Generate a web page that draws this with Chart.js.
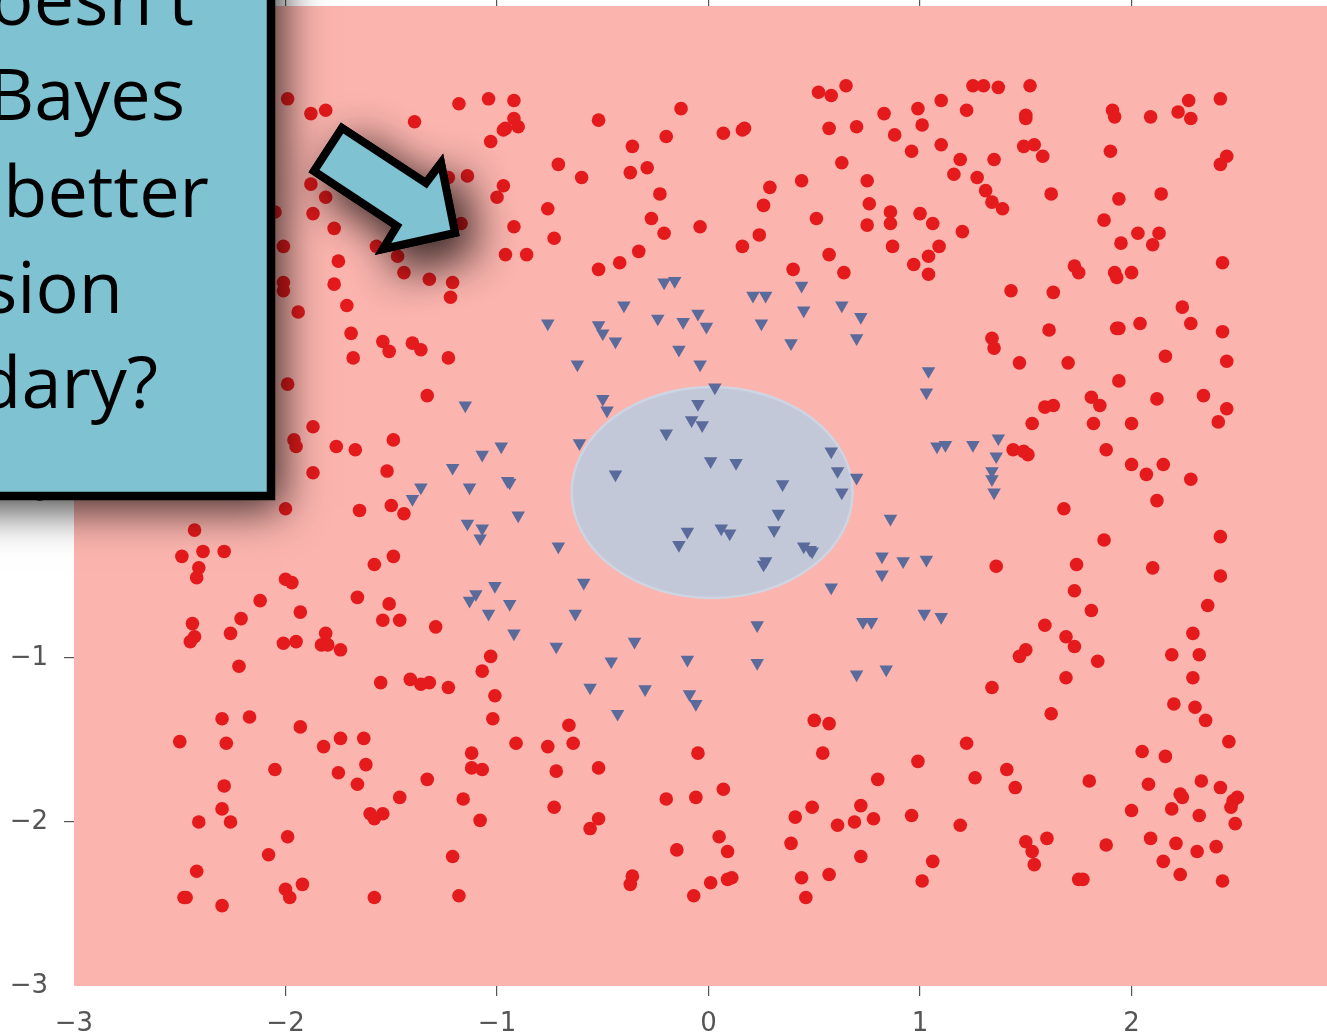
<!DOCTYPE html>
<html><head><meta charset="utf-8">
<script src="https://cdn.jsdelivr.net/npm/chart.js@4.4.0/dist/chart.umd.min.js"></script>
<style>html,body{margin:0;padding:0;background:#fff;overflow:hidden}#wrap{width:1327px;height:1036px;position:relative}canvas{display:block}</style>
</head><body><div id="wrap"><canvas id="c" width="1327" height="1036"></canvas></div>
<script>
// ---- data ----
const xTicks = [-3, -2, -1, 0, 1, 2];
const yTicks = [-3, -2, -1, 0, 1, 2];
const xRange = [-3, 2.924];
const yRange = [-3, 2.976];

const redPoints = [
[-1.99,2.41],[-1.88,2.32],[-1.81,2.34],[-1.39,2.27],[-1.18,2.38],[-1.04,2.41],[-0.92,2.40],[-0.92,2.29],[-0.97,2.22],[-0.96,2.23],
[-0.90,2.24],[-1.03,2.15],[-0.52,2.28],[-0.13,2.35],[-0.20,2.18],[-0.36,2.12],[-0.71,2.01],[-0.60,1.93],[-0.37,1.96],[-0.29,1.99],
[-0.23,1.83],[-1.14,1.94],[-1.23,1.93],[-1.88,1.89],[-1.81,1.81],[-2.05,1.72],[-1.87,1.71],[-1.77,1.62],[-2.01,1.51],[-1.75,1.42],
[-2.01,1.29],[-2.01,1.24],[-1.77,1.28],[-1.94,1.11],[-1.71,1.15],[-1.69,0.98],[-1.57,1.51],[-1.47,1.45],[-1.44,1.35],[-1.32,1.31],
[-1.21,1.29],[-1.22,1.20],[-1.17,1.65],[-0.97,1.88],[-1.00,1.81],[-0.76,1.74],[-0.92,1.63],[-0.73,1.56],[-0.96,1.46],[-0.86,1.46],
[-0.52,1.37],[-0.42,1.41],[-0.33,1.48],[-0.27,1.68],[-0.21,1.59],[-0.04,1.63],[0.52,2.45],[0.58,2.43],[0.65,2.49],[0.07,2.20],
[0.16,2.22],[0.17,2.23],[0.57,2.23],[0.70,2.24],[0.83,2.32],[0.99,2.35],[1.10,2.40],[1.25,2.49],[1.30,2.49],[1.37,2.48],
[1.52,2.49],[1.22,2.34],[1.01,2.25],[0.88,2.19],[1.10,2.13],[0.96,2.09],[0.63,2.02],[0.75,1.91],[0.76,1.77],[0.86,1.72],
[0.86,1.65],[0.75,1.64],[1.00,1.71],[1.06,1.65],[0.87,1.51],[1.09,1.51],[1.04,1.45],[0.97,1.40],[1.04,1.34],[1.20,1.60],
[1.16,1.95],[1.19,2.04],[1.27,1.93],[1.31,1.85],[1.34,1.78],[1.39,1.74],[1.35,2.04],[1.49,2.12],[1.54,2.13],[1.58,2.06],
[1.50,2.31],[1.50,2.29],[1.91,2.34],[1.92,2.30],[2.09,2.30],[2.22,2.33],[2.27,2.40],[2.28,2.29],[2.42,2.41],[1.90,2.09],
[2.45,2.06],[2.42,2.01],[1.62,1.83],[1.94,1.80],[2.14,1.83],[1.87,1.67],[2.03,1.59],[2.13,1.59],[2.10,1.52],[1.95,1.53],
[2.43,1.41],[0.44,1.91],[0.29,1.87],[0.26,1.76],[0.51,1.68],[0.24,1.58],[0.16,1.51],[0.40,1.37],[0.57,1.46],[0.64,1.35],
[1.73,1.39],[1.75,1.35],[1.92,1.35],[1.93,1.32],[2.00,1.35],[1.43,1.24],[1.63,1.23],[2.24,1.14],[2.28,1.04],[2.43,0.99],
[1.61,1.00],[1.93,1.01],[1.94,1.01],[2.04,1.04],[1.34,0.95],[1.35,0.89],[1.47,0.80],[1.70,0.80],[2.16,0.84],[2.45,0.81],
[1.94,0.69],[1.81,0.59],[1.85,0.54],[2.12,0.58],[2.34,0.60],[2.45,0.52],[2.41,0.44],[1.59,0.53],[1.63,0.54],[1.53,0.43],
[1.82,0.43],[2.00,0.43],[1.44,0.27],[1.49,0.26],[1.51,0.24],[1.88,0.27],[2.00,0.18],[2.15,0.18],[2.07,0.12],[2.28,0.09],
[2.12,-0.04],[1.68,-0.09],[1.87,-0.28],[2.42,-0.26],[1.36,-0.44],[1.74,-0.43],[2.10,-0.45],[2.42,-0.50],[1.73,-0.59],[1.81,-0.71],
[2.36,-0.68],[1.59,-0.80],[1.69,-0.87],[1.73,-0.93],[2.29,-0.85],[1.50,-0.95],[1.47,-0.99],[1.84,-1.02],[2.19,-0.98],[2.32,-0.98],
[1.34,-1.18],[1.69,-1.12],[2.29,-1.12],[1.62,-1.34],[2.20,-1.28],[2.30,-1.30],[2.35,-1.38],[2.46,-1.51],[1.22,-1.52],[0.99,-1.63],
[1.26,-1.73],[1.41,-1.68],[1.45,-1.79],[1.80,-1.75],[2.05,-1.57],[2.16,-1.60],[2.08,-1.77],[2.33,-1.75],[2.42,-1.79],[2.23,-1.83],
[2.24,-1.85],[2.50,-1.85],[2.48,-1.87],[2.47,-1.91],[2.00,-1.93],[2.19,-1.92],[2.32,-1.96],[2.49,-2.01],[0.96,-1.96],[1.19,-2.02],
[1.50,-2.12],[1.60,-2.10],[1.53,-2.18],[1.54,-2.26],[1.88,-2.14],[2.09,-2.10],[2.21,-2.13],[2.40,-2.15],[2.31,-2.18],[2.15,-2.24],
[1.06,-2.24],[1.01,-2.36],[1.75,-2.35],[1.77,-2.35],[2.23,-2.32],[2.43,-2.36],[-0.66,-1.41],[-0.91,-1.52],[-0.76,-1.54],[-0.64,-1.52],
[-0.72,-1.69],[-0.52,-1.67],[-0.73,-1.91],[-0.52,-1.98],[-0.56,-2.04],[-0.05,-1.58],[-0.20,-1.86],[-0.06,-1.85],[0.07,-1.80],[0.05,-2.09],
[0.09,-2.18],[-0.15,-2.17],[-0.36,-2.33],[-0.37,-2.38],[0.01,-2.37],[0.11,-2.34],[0.09,-2.35],[-0.07,-2.45],[0.50,-1.38],[0.57,-1.40],
[0.54,-1.58],[0.80,-1.74],[0.72,-1.90],[0.49,-1.91],[0.41,-1.97],[0.61,-2.02],[0.69,-2.00],[0.78,-1.98],[0.39,-2.13],[0.72,-2.21],
[0.44,-2.34],[0.57,-2.32],[0.46,-2.46],[-2.22,-1.05],[-1.03,-0.99],[-1.07,-1.08],[-1.01,-1.23],[-1.02,-1.37],[-1.55,-1.15],[-1.41,-1.13],
[-1.36,-1.16],[-1.32,-1.15],[-1.23,-1.18],[-2.30,-1.37],[-2.17,-1.36],[-1.93,-1.42],[-2.50,-1.51],[-2.28,-1.52],[-1.82,-1.54],[-1.74,-1.49],
[-1.63,-1.49],[-2.05,-1.68],[-1.75,-1.70],[-1.62,-1.65],[-1.66,-1.77],[-1.12,-1.58],[-1.12,-1.67],[-1.07,-1.68],[-1.33,-1.74],[-1.46,-1.85],
[-1.16,-1.86],[-2.29,-1.78],[-2.30,-1.92],[-2.41,-2.00],[-2.26,-2.00],[-1.60,-1.95],[-1.54,-1.95],[-1.58,-1.98],[-1.08,-1.99],[-1.99,-2.09],
[-2.08,-2.20],[-1.21,-2.21],[-2.42,-2.30],[-2.48,-2.46],[-2.47,-2.46],[-2.30,-2.51],[-2.00,-2.41],[-1.98,-2.46],[-1.92,-2.38],[-1.58,-2.46],
[-1.18,-2.45],[-1.54,0.93],[-1.51,0.87],[-1.40,0.92],[-1.36,0.88],[-1.68,0.83],[-1.23,0.83],[-1.33,0.60],[-1.99,0.67],[-1.87,0.41],
[-1.96,0.33],[-1.95,0.29],[-1.76,0.29],[-1.67,0.27],[-1.49,0.33],[-1.87,0.13],[-1.52,0.14],[-2.00,-0.09],[-1.65,-0.10],[-1.50,-0.07],
[-1.44,-0.12],[-2.43,-0.22],[-2.49,-0.38],[-2.39,-0.35],[-2.29,-0.35],[-2.41,-0.45],[-2.42,-0.51],[-1.49,-0.38],[-1.58,-0.43],[-1.66,-0.63],
[-1.51,-0.67],[-1.54,-0.77],[-1.46,-0.77],[-1.29,-0.81],[-1.93,-0.72],[-2.00,-0.52],[-1.97,-0.54],[-2.12,-0.65],[-2.21,-0.76],[-2.26,-0.85],
[-2.44,-0.79],[-2.43,-0.87],[-2.45,-0.90],[-2.01,-0.91],[-1.95,-0.90],[-1.81,-0.85],[-1.83,-0.92],[-1.80,-0.92],[-1.74,-0.95]
];

const bluePoints = [
[-0.21,1.29],[-0.16,1.30],[0.21,1.21],[0.27,1.21],[0.44,1.27],[-0.40,1.15],[0.45,1.12],[0.63,1.15],[0.72,1.08],[0.70,0.95],
[-0.05,1.10],[-0.01,1.02],[-0.12,1.05],[-0.24,1.07],[-0.76,1.04],[-0.52,1.03],[-0.50,0.98],[-0.44,0.93],[-0.14,0.88],[-0.04,0.79],
[0.25,1.04],[0.39,0.92],[-0.62,0.79],[0.03,0.65],[-0.50,0.58],[-0.48,0.51],[-0.05,0.55],[-0.08,0.45],[-0.03,0.42],[-0.20,0.37],
[-0.61,0.31],[0.01,0.20],[0.13,0.19],[0.58,0.26],[0.61,0.14],[0.70,0.10],[0.63,0.01],[0.35,0.06],[-0.44,0.12],[0.33,-0.12],
[0.31,-0.22],[-0.10,-0.23],[0.06,-0.21],[0.10,-0.24],[-0.14,-0.31],[0.45,-0.32],[0.49,-0.35],[0.48,-0.34],[0.27,-0.41],[0.26,-0.43],
[-0.59,-0.54],[0.58,-0.57],[0.86,-0.15],[0.82,-0.38],[0.92,-0.41],[1.03,-0.40],[0.82,-0.49],[0.73,-0.78],[0.77,-0.78],[0.23,-0.80],
[1.02,-0.73],[1.10,-0.75],[-0.71,-0.32],[-0.90,-0.13],[-0.98,0.29],[-0.95,0.08],[-0.94,0.07],[-1.15,0.54],[-1.07,0.24],[-1.21,0.16],
[-1.13,0.04],[-1.36,0.04],[-1.40,-0.03],[-1.14,-0.18],[-1.07,-0.21],[-1.08,-0.27],[-1.01,-0.56],[-1.10,-0.61],[-1.13,-0.65],[-1.04,-0.73],
[-0.94,-0.67],[-0.63,-0.73],[-0.92,-0.85],[-0.72,-0.93],[-0.35,-0.90],[-0.46,-1.02],[-0.10,-1.01],[0.23,-1.03],[-0.56,-1.18],[-0.30,-1.19],
[-0.09,-1.22],[-0.06,-1.28],[-0.43,-1.34],[0.70,-1.10],[0.84,-1.07],[1.04,0.75],[1.03,0.62],[1.08,0.29],[1.12,0.30],[1.25,0.30],
[1.37,0.34],[1.36,0.23],[1.34,0.14],[1.34,0.09],[1.35,0.01]
];

// decision boundary region (ellipse in data units)
const boundaryCenter = [0.017, 0.009];
const boundaryRadii = [0.664, 0.643];

const calloutLines = ["doesn't", "Bayes", "better", "decision", "boundary?"];

// ---- helpers ----
const fmt = v => (v < 0 ? '\u2212' + Math.abs(v) : String(v));
const tickColor = c => (c.tick && c.tick.value === -3 ? 'rgba(0,0,0,0)' : '#555555');
const noPad = s => { s.paddingTop = 0; s.paddingBottom = 0; s.paddingLeft = 0; s.paddingRight = 0; };

const plotBg = {
  id: 'plotBg',
  beforeDraw(chart) {
    const { ctx, chartArea: a } = chart;
    ctx.save();
    ctx.fillStyle = '#fff';
    ctx.fillRect(0, 0, chart.width, chart.height);
    ctx.fillStyle = '#fbb4ae';
    ctx.fillRect(a.left, a.top, a.right - a.left, a.bottom - a.top);
    ctx.restore();
  },
  beforeDatasetsDraw(chart) {
    const { ctx, scales: { x, y } } = chart;
    const cx = x.getPixelForValue(boundaryCenter[0]);
    const cy = y.getPixelForValue(boundaryCenter[1]);
    const rx = Math.abs(x.getPixelForValue(boundaryCenter[0] + boundaryRadii[0]) - cx);
    const ry = Math.abs(y.getPixelForValue(boundaryCenter[1] + boundaryRadii[1]) - cy);
    ctx.save();
    ctx.beginPath();
    ctx.ellipse(cx, cy, rx, ry, 0, 0, Math.PI * 2);
    ctx.fillStyle = '#c3c8d8';
    ctx.fill();
    ctx.lineWidth = 2.5;
    ctx.strokeStyle = '#cfd4e3';
    ctx.stroke();
    ctx.restore();
  }
};

const callout = {
  id: 'callout',
  afterDraw(chart) {
    const ctx = chart.ctx;
    ctx.save();
    // box with drop shadow
    ctx.shadowColor = 'rgba(0,0,0,0.75)';
    ctx.shadowBlur = 40;
    ctx.shadowOffsetX = 12;
    ctx.shadowOffsetY = 14;
    ctx.fillStyle = '#7fc3d3';
    ctx.fillRect(-80, -80, 351, 576);
    ctx.shadowColor = 'rgba(0,0,0,0)';
    ctx.lineWidth = 8.5;
    ctx.strokeStyle = '#000';
    ctx.strokeRect(-80, -80, 351, 576);
    // text
    ctx.fillStyle = '#000';
    ctx.font = '72px "Open Sans"';
    ctx.textAlign = 'right';
    ctx.textBaseline = 'alphabetic';
    const pos = [[194, 25], [185, 120], [209, 217], [123, 313], [158, 408]];
    calloutLines.forEach((t, i) => ctx.fillText(t, pos[i][0], pos[i][1]));
    // arrow
    const arr = [[342,128],[426,183],[441,163],[455,233],[383,249],[397,226],[314,171]];
    const path = () => {
      ctx.beginPath();
      arr.forEach((p, i) => (i ? ctx.lineTo(p[0], p[1]) : ctx.moveTo(p[0], p[1])));
      ctx.closePath();
    };
    path();
    ctx.shadowColor = 'rgba(0,0,0,0.85)';
    ctx.shadowBlur = 44;
    ctx.shadowOffsetX = 14;
    ctx.shadowOffsetY = 16;
    ctx.lineJoin = 'miter';
    ctx.lineWidth = 8;
    ctx.strokeStyle = '#000';
    ctx.stroke();
    ctx.fillStyle = '#7fc3d3';
    ctx.fill();
    ctx.shadowColor = 'rgba(0,0,0,0)';
    ctx.stroke();
    ctx.restore();
  }
};

function build() {
  const tickFont = { family: 'DejaVu Sans', size: 26 };
  new Chart(document.getElementById('c'), {
    type: 'scatter',
    data: {
      datasets: [
        {
          data: redPoints.map(p => ({ x: p[0], y: p[1] })),
          pointStyle: 'circle', pointRadius: 6.8, pointBorderWidth: 0,
          backgroundColor: '#e41a1c', pointBackgroundColor: '#e41a1c'
        },
        {
          data: bluePoints.map(p => ({ x: p[0], y: p[1] })),
          pointStyle: 'triangle', pointRotation: 180, pointRadius: 7.8, pointBorderWidth: 0,
          backgroundColor: '#5a6a9b', pointBackgroundColor: '#5a6a9b'
        }
      ]
    },
    options: {
      responsive: false,
      animation: false,
      events: [],
      layout: { padding: 0, autoPadding: false },
      plugins: { legend: { display: false }, tooltip: { enabled: false } },
      scales: {
        x: {
          type: 'linear', position: 'bottom', min: xRange[0], max: xRange[1],
          afterBuildTicks: s => { s.ticks = xTicks.map(v => ({ value: v })); },
          ticks: { callback: fmt, font: tickFont, color: '#555555', padding: 13, maxRotation: 0, autoSkip: false },
          grid: { drawOnChartArea: false, drawTicks: true, tickLength: 10, color: tickColor, lineWidth: 1.2 },
          border: { display: false },
          afterFit: s => { s.height = 50; noPad(s); }
        },
        xTop: {
          type: 'linear', position: 'top', min: xRange[0], max: xRange[1],
          afterBuildTicks: s => { s.ticks = xTicks.map(v => ({ value: v })); },
          ticks: { display: false },
          grid: { drawOnChartArea: false, drawTicks: true, tickLength: 10, color: tickColor, lineWidth: 1.2 },
          border: { display: false },
          afterFit: s => { s.height = 6; noPad(s); }
        },
        y: {
          type: 'linear', position: 'left', min: yRange[0], max: yRange[1],
          afterBuildTicks: s => { s.ticks = yTicks.map(v => ({ value: v })); },
          ticks: { callback: fmt, font: tickFont, color: '#555555', padding: 16, autoSkip: false },
          grid: { drawOnChartArea: false, drawTicks: true, tickLength: 10, color: tickColor, lineWidth: 1.2 },
          border: { display: false },
          afterFit: s => { s.width = 74; noPad(s); }
        }
      }
    },
    plugins: [plotBg, callout]
  });
}

let built = false;
function go() { if (!built) { built = true; build(); } }
try {
  Promise.all([
    document.fonts.load('72px "Open Sans"'),
    document.fonts.load('26px "DejaVu Sans"')
  ]).then(go, go);
} catch (e) { go(); }
setTimeout(go, 1500);
</script>
</body></html>
